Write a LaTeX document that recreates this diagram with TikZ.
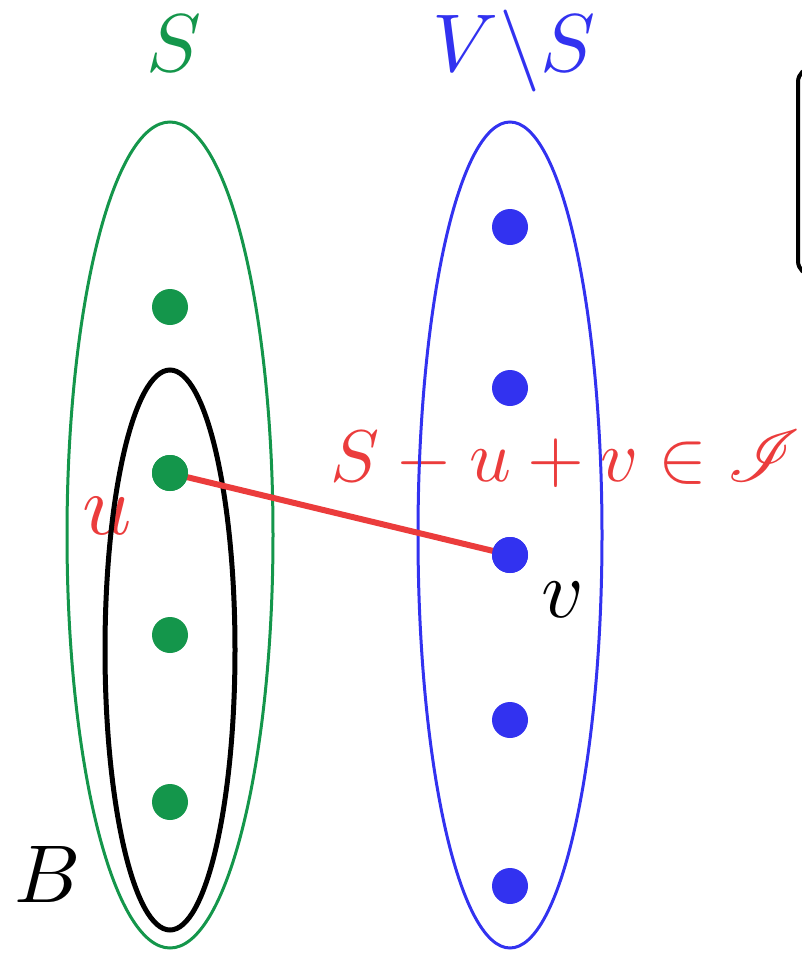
\documentclass[tikz,border=0pt]{standalone}
\usepackage{mathrsfs}
\definecolor{sgreen}{RGB}{20,150,75}
\definecolor{sblue}{RGB}{50,50,240}
\definecolor{sred}{RGB}{235,60,60}
\begin{document}
\begin{tikzpicture}[x=0.5pt,y=-0.5pt,
  lbl/.style={inner sep=0pt, scale=4.1},
  fml/.style={inner sep=0pt, scale=3.66, text=sred},
  gdot/.style={circle, fill=sgreen, inner sep=0pt, minimum size=18pt},
  bdot/.style={circle, fill=sblue, inner sep=0pt, minimum size=18pt},
  setS/.style={draw=sgreen, line width=1.5pt},
  setV/.style={draw=sblue, line width=1.5pt},
  setB/.style={draw=black, line width=2.5pt},
  exch/.style={draw=sred, line width=3pt}]
\clip (0,0) rectangle (802,953);
% labels
\node[lbl, text=sgreen, anchor=base] (lS) at (174,71) {$S$};
\node[lbl, text=sblue, anchor=base] (lVS) at (514,71) {$V\backslash S$};
\node[fml, anchor=base west] (f) at (329,481) {$S-u+v\in\mathscr{I}$};
\node[lbl, scale=1.05, text=sred, anchor=base] (lu) at (107,534) {$u$};
\node[lbl, anchor=base] (lv) at (563,617) {$v$};
\node[lbl, anchor=base] (lB) at (48,902) {$B$};
% sets
\coordinate (cS) at (170,535);
\coordinate (cB) at (170,650);
\coordinate (cV) at (510,535);
\draw[setS] (cS) ellipse [x radius=103, y radius=413];
\draw[setV] (cV) ellipse [x radius=92, y radius=413];
\draw[setB] (cB) ellipse [x radius=65, y radius=280];
% dots
\node[gdot] (g1) at (170,307) {};
\node[gdot] (g2) at (170,473) {};
\node[gdot] (g3) at (170,635) {};
\node[gdot] (g4) at (170,802) {};
\node[bdot] (b1) at (510,227) {};
\node[bdot] (b2) at (510,388) {};
\node[bdot] (b3) at (510,555) {};
\node[bdot] (b4) at (510,720) {};
\node[bdot] (b5) at (510,886) {};
% exchange edge, dots redrawn on top
\draw[exch] (g2.center) -- (b3.center);
\node[gdot] at (g2) {};
\node[bdot] at (b3) {};
% partial box at right edge
\coordinate (bx1) at (798,68);
\coordinate (bx2) at (900,275);
\draw[line width=2pt, rounded corners=7pt] (bx1) rectangle (bx2);
\end{tikzpicture}
\end{document}
